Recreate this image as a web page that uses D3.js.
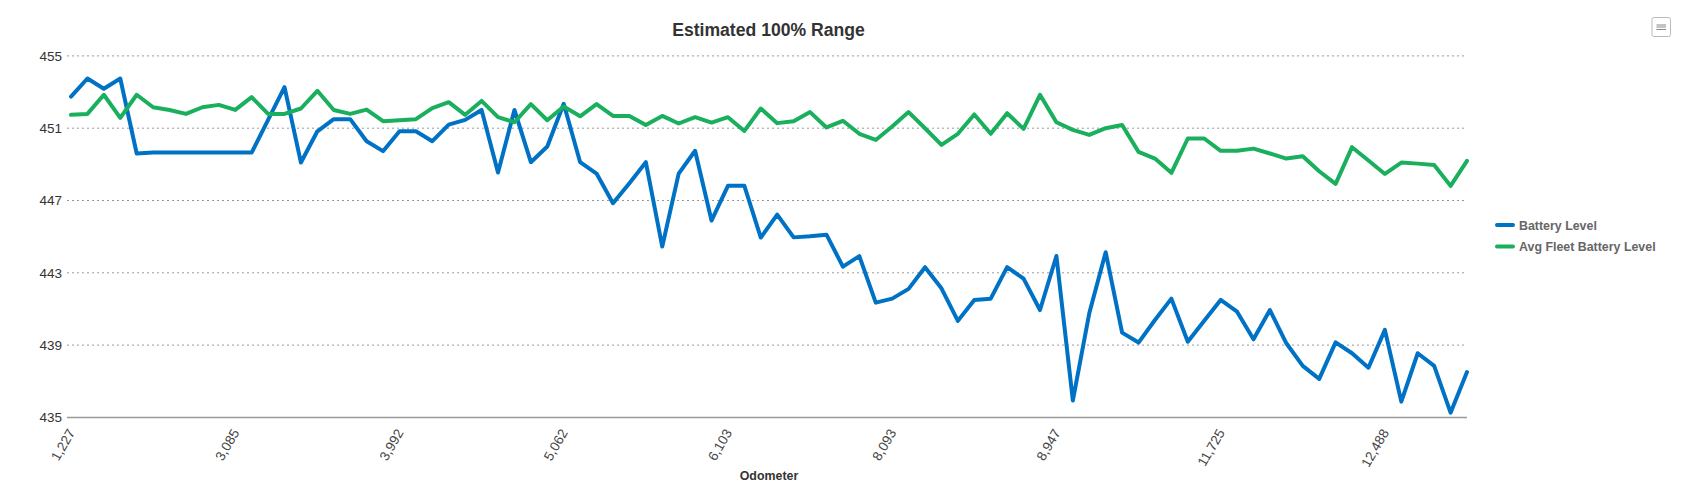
<!DOCTYPE html>
<html>
<head>
<meta charset="utf-8">
<script src="https://cdn.jsdelivr.net/npm/d3@7"></script>
<style>
    html, body { margin: 0; padding: 0; background: #fff; }
    svg { display: block; font-family: "Liberation Sans", Arial, sans-serif; }
</style>
</head>
<body>
<div id="chart"></div>
<script>
var chartTitle = 'Estimated 100% Range';
var xTitle = 'Odometer';
var seriesNames = [ 'Battery Level', 'Avg Fleet Battery Level' ];
var seriesColors = [ '#0072c6', '#1aaf5d' ];

// only every tenth odometer reading is labelled on the axis
var tickIndexes = [ 0, 10, 20, 30, 40, 50, 60, 70, 80 ];
var tickLabels = [ '1,227', '3,085', '3,992', '5,062', '6,103', '8,093', '8,947', '11,725', '12,488' ];
var yTicks = [ 435, 439, 443, 447, 451, 455 ];

var batteryLevel = [
    452.75, 453.75, 453.18, 453.75, 449.60, 449.65, 449.65, 449.65, 449.65, 449.65,
    449.65, 449.65, 451.46, 453.27, 449.10, 450.83, 451.50, 451.50, 450.28, 449.73,
    450.83, 450.83, 450.28, 451.20, 451.46, 452.01, 448.55, 452.01, 449.12, 449.99,
    452.35, 449.12, 448.49, 446.85, 447.96, 449.12, 444.45, 448.49, 449.75, 445.89,
    447.81, 447.81, 444.95, 446.22, 444.96, 445.02, 445.11, 443.34, 443.92, 441.35,
    441.57, 442.11, 443.31, 442.14, 440.34, 441.50, 441.57, 443.31, 442.68, 440.94,
    443.93, 435.93, 440.76, 444.14, 439.69, 439.14, 440.39, 441.57, 439.19, 440.35,
    441.50, 440.85, 439.32, 440.94, 439.10, 437.85, 437.13, 439.15, 438.55, 437.75,
    439.84, 435.87, 438.55, 437.85, 435.26, 437.51 ];

var fleetLevel = [
    451.74, 451.79, 452.85, 451.57, 452.85, 452.16, 452.01, 451.79, 452.16, 452.29,
    452.01, 452.72, 451.79, 451.79, 452.09, 453.07, 452.01, 451.79, 452.03, 451.39,
    451.44, 451.50, 452.11, 452.44, 451.74, 452.51, 451.61, 451.33, 452.33, 451.44,
    452.20, 451.66, 452.33, 451.68, 451.68, 451.18, 451.68, 451.26, 451.61, 451.31,
    451.61, 450.85, 452.09, 451.28, 451.39, 451.89, 451.04, 451.41, 450.69, 450.35,
    451.09, 451.89, 451.00, 450.08, 450.69, 451.76, 450.69, 451.83, 450.96, 452.85,
    451.33, 450.91, 450.63, 451.00, 451.18, 449.69, 449.32, 448.53, 450.43, 450.43,
    449.75, 449.75, 449.87, 449.60, 449.32, 449.45, 448.62, 447.92, 449.95, 449.21,
    448.47, 449.10, 449.04, 448.97, 447.81, 449.19 ];

var svg = d3.select('#chart').append('svg')
    .attr('width', 1685)
    .attr('height', 496);

var gridLeft = 67, gridRight = 1467;
var x = d3.scaleLinear().domain([0, batteryLevel.length - 1]).range([71, 1467]);
var y = d3.scaleLinear().domain([435, 455]).range([417.4, 55.9]);

drawGrid();
drawXAxis();
drawYAxis();
drawSeries(batteryLevel, seriesColors[0]);
drawSeries(fleetLevel, seriesColors[1]);
drawTitles();
drawLegend();
drawMenuButton();

function drawGrid () {
    svg.append('g').selectAll('line')
        .data(yTicks.slice(1))
        .enter().append('line')
        .attr('x1', gridLeft)
        .attr('x2', gridRight)
        .attr('y1', function (d) { return y(d); })
        .attr('y2', function (d) { return y(d); })
        .attr('stroke', '#999')
        .attr('stroke-width', 1)
        .attr('stroke-dasharray', '2,3');
}

function drawXAxis () {
    var axis = d3.axisBottom(x)
        .tickValues(tickIndexes)
        .tickFormat(function (d, i) { return tickLabels[i]; })
        .tickSize(0);

    var g = svg.append('g')
        .attr('transform', 'translate(0,' + y(435) + ')')
        .call(axis);

    g.select('.domain').remove();
    g.append('line')
        .attr('x1', gridLeft)
        .attr('x2', gridRight)
        .attr('stroke', '#999')
        .attr('stroke-width', 1.5);

    g.selectAll('text')
        .attr('font-size', 13.5)
        .attr('font-family', '"Liberation Sans", Arial, sans-serif')
        .attr('fill', '#444')
        .attr('text-anchor', 'end')
        .attr('dy', null)
        .attr('y', 0)
        .attr('transform', 'translate(4,15) rotate(-60)');
}

function drawYAxis () {
    var axis = d3.axisLeft(y)
        .tickValues(yTicks)
        .tickFormat(d3.format('d'))
        .tickSize(0)
        .tickPadding(5);

    var g = svg.append('g')
        .attr('transform', 'translate(' + gridLeft + ',0)')
        .call(axis);

    g.select('.domain').remove();
    g.selectAll('text')
        .attr('font-size', 13.5)
        .attr('font-family', '"Liberation Sans", Arial, sans-serif')
        .attr('fill', '#333');
}

function drawSeries (values, color) {
    var line = d3.line()
        .x(function (d, i) { return x(i); })
        .y(function (d) { return y(d); });

    svg.append('path')
        .datum(values)
        .attr('d', line)
        .attr('fill', 'none')
        .attr('stroke', color)
        .attr('stroke-width', 4)
        .attr('stroke-linejoin', 'round')
        .attr('stroke-linecap', 'round');
}

function drawTitles () {
    svg.append('text')
        .attr('x', 768.5)
        .attr('y', 36)
        .attr('text-anchor', 'middle')
        .attr('font-size', 17.6)
        .attr('font-weight', 'bold')
        .attr('fill', '#333')
        .text(chartTitle);

    svg.append('text')
        .attr('x', 769)
        .attr('y', 480)
        .attr('text-anchor', 'middle')
        .attr('font-size', 12.4)
        .attr('font-weight', 'bold')
        .attr('fill', '#333')
        .text(xTitle);
}

function drawLegend () {
    var items = svg.append('g').selectAll('g')
        .data(seriesNames)
        .enter().append('g')
        .attr('transform', function (d, i) { return 'translate(1497,' + (225 + i * 21.5) + ')'; });

    items.append('line')
        .attr('x1', 0)
        .attr('x2', 16)
        .attr('stroke', function (d, i) { return seriesColors[i]; })
        .attr('stroke-width', 4)
        .attr('stroke-linecap', 'round');

    items.append('text')
        .attr('x', 22)
        .attr('y', 4.5)
        .attr('font-size', 12.4)
        .attr('font-weight', 'bold')
        .attr('fill', '#666')
        .text(function (d) { return d; });
}

function drawMenuButton () {
    var g = svg.append('g').attr('transform', 'translate(1652,17.5)');

    g.append('rect')
        .attr('width', 18.5)
        .attr('height', 19)
        .attr('rx', 2)
        .attr('ry', 2)
        .attr('fill', '#fff')
        .attr('stroke', '#bbb')
        .attr('stroke-width', 1);

    g.selectAll('line')
        .data([ 7.5, 9.5, 12 ])
        .enter().append('line')
        .attr('x1', 4.5)
        .attr('x2', 14)
        .attr('y1', function (d) { return d; })
        .attr('y2', function (d) { return d; })
        .attr('stroke', '#888')
        .attr('stroke-width', 1);
}
</script>
</body>
</html>
